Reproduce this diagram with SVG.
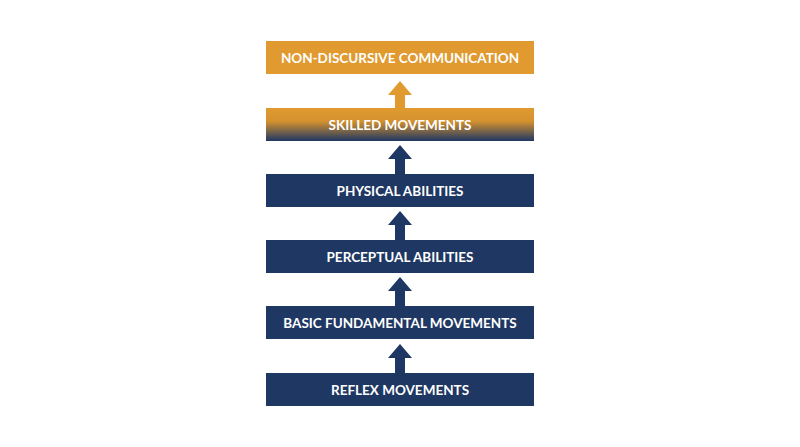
<svg xmlns="http://www.w3.org/2000/svg" width="800" height="447" viewBox="0 0 800 447">
<defs>
<linearGradient id="g" x1="0" y1="0" x2="0" y2="1">
<stop offset="0" stop-color="#E09A2F"/>
<stop offset="0.4" stop-color="#D4922F"/>
<stop offset="1" stop-color="#1F3763"/>
</linearGradient>
</defs>
<style>
.box{fill:#1F3763}
.lbl{font-family:Lato,"Liberation Sans",sans-serif;font-weight:bold;font-size:13.5px;fill:#fff;text-anchor:middle;dominant-baseline:central}
.navy{fill:#1F3763}
.orange{fill:#E09A2F}
</style>
<rect width="800" height="447" fill="#fff"/>
<g id="connectors">
<path class="orange" d="M400 81 L412 95 L405 95 L405 108 L395 108 L395 95 L388 95 Z"/>
<path class="navy" d="M400 145 L412 159 L405 159 L405 174 L395 174 L395 159 L388 159 Z"/>
<path class="navy" d="M400 211 L412 225 L405 225 L405 240 L395 240 L395 225 L388 225 Z"/>
<path class="navy" d="M400 277 L412 291 L405 291 L405 306 L395 306 L395 291 L388 291 Z"/>
<path class="navy" d="M400 344 L412 358 L405 358 L405 373 L395 373 L395 358 L388 358 Z"/>
</g>
<g id="n1"><rect x="266" y="41" width="268" height="33" fill="#E09A2F"/><text class="lbl" x="400" y="58">NON-DISCURSIVE COMMUNICATION</text></g>
<g id="n2"><rect x="266" y="108" width="268" height="33" fill="url(#g)"/><text class="lbl" x="400" y="125">SKILLED MOVEMENTS</text></g>
<g id="n3"><rect class="box" x="266" y="174" width="268" height="33"/><text class="lbl" x="400" y="191">PHYSICAL ABILITIES</text></g>
<g id="n4"><rect class="box" x="266" y="240" width="268" height="33"/><text class="lbl" x="400" y="257">PERCEPTUAL ABILITIES</text></g>
<g id="n5"><rect class="box" x="266" y="306" width="268" height="33"/><text class="lbl" x="400" y="323">BASIC FUNDAMENTAL MOVEMENTS</text></g>
<g id="n6"><rect class="box" x="266" y="373" width="268" height="33"/><text class="lbl" x="400" y="390">REFLEX MOVEMENTS</text></g>
</svg>
